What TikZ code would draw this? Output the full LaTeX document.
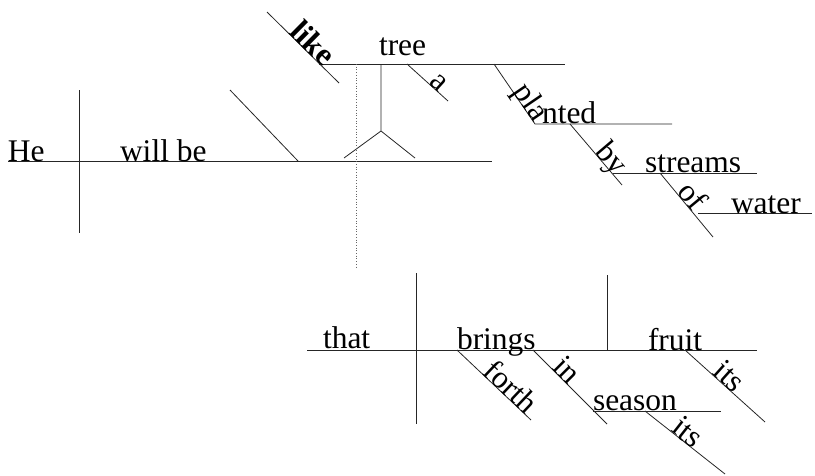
\documentclass[tikz,border=0pt]{standalone}
\usepackage{fontspec}
\setmainfont{Liberation Serif}
\begin{document}
\begin{tikzpicture}[x=1pt,y=-1pt,
  rule/.style={line width=0.8pt,black!85},
  word/.style={inner sep=0pt,outer sep=0pt,font=\fontsize{31.5}{36}\selectfont},
  lean/.style={word,sloped,anchor=base},
  dots/.style={line width=0.7pt,black!60,dotted}]
\useasboundingbox (0,0) rectangle (815,475);

% ---- main clause: He will be like a tree ----
\coordinate (mL) at (8,161);   \coordinate (mR) at (492,161);
\coordinate (sT) at (79,90);   \coordinate (sB) at (79,233);
\coordinate (pT) at (230,90);  \coordinate (pB) at (298,161);
\draw[rule] (mL) -- (mR);
\draw[rule] (sT) -- (sB);
\draw[rule] (pT) -- (pB);
\node[word,anchor=base west] (he) at (8,161) {He};
\node[word,anchor=base west] (will) at (120,161) {will be};

% prepositional phrase on a pedestal
\coordinate (lkT) at (267,12);  \coordinate (lkB) at (339,83);
\coordinate (trL) at (319,64);  \coordinate (trR) at (565,64);
\coordinate (pdT) at (381,64);  \coordinate (pdM) at (381,131);
\coordinate (pdL) at (344,158); \coordinate (pdR) at (415,158);
\draw[rule] (lkT) -- (lkB);
\draw[rule] (trL) -- (trR);
\draw[rule] (pdT) -- (pdM) (pdL) -- (pdM) -- (pdR);
\path (lkT) -- (lkB) node[lean,pos=0.54,font=\fontsize{31.5}{36}\selectfont\bfseries] (like) {like};
\node[word,anchor=base west] (tree) at (379,55) {tree};

\coordinate (aT) at (407,64); \coordinate (aB) at (448,101);
\draw[rule] (aT) -- (aB);
\path (aT) -- (aB) node[lean,pos=0.66] (a) {a};

% link from the predicate down to the relative clause
\coordinate (dT) at (356,64); \coordinate (dB) at (356,268);
\draw[dots] (dT) -- (dB);

% participle: planted by streams of water
\coordinate (plT) at (494,64);  \coordinate (plB) at (535,124);
\coordinate (ntR) at (672,124);
\draw[rule] (plT) -- (plB) -- (ntR);
\path (plT) -- (plB) node[lean,pos=0.98,anchor=base east] (pla) {pla};
\node[word,anchor=base west] (nted) at (542,123) {nted};

\coordinate (byT) at (570,124); \coordinate (byB) at (622,185);
\draw[rule] (byT) -- (byB);
\path (byT) -- (byB) node[lean,pos=0.86,anchor=base east] (by) {by};
\coordinate (stL) at (613,173); \coordinate (stR) at (757,173);
\draw[rule] (stL) -- (stR);
\node[word,anchor=base west] (streams) at (645,172) {streams};

\coordinate (ofT) at (660,173); \coordinate (ofB) at (713,237);
\draw[rule] (ofT) -- (ofB);
\path (ofT) -- (ofB) node[lean,pos=0.46] (of) {of};
\coordinate (waL) at (698,213); \coordinate (waR) at (812,213);
\draw[rule] (waL) -- (waR);
\node[word,anchor=base west] (water) at (731,213) {water};

% ---- relative clause: that brings forth its fruit in its season ----
\coordinate (rL) at (307,350);  \coordinate (rR) at (757,350);
\coordinate (rsT) at (416,273); \coordinate (rsB) at (416,424);
\coordinate (roT) at (607,275); \coordinate (roB) at (607,350);
\draw[rule] (rL) -- (rR);
\draw[rule] (rsT) -- (rsB);
\draw[rule] (roT) -- (roB);
\node[word,anchor=base west] (that) at (323,348) {that};
\node[word,anchor=base west] (brings) at (457,349) {brings};
\node[word,anchor=base west] (fruit) at (648,350) {fruit};

\coordinate (foT) at (457,350); \coordinate (foB) at (531,420);
\draw[rule] (foT) -- (foB);
\path (foT) -- (foB) node[lean,pos=0.63] (forth) {forth};

\coordinate (inT) at (533,350); \coordinate (inB) at (607,424);
\draw[rule] (inT) -- (inB);
\path (inT) -- (inB) node[lean,pos=0.37] (in) {in};
\coordinate (seL) at (593,411); \coordinate (seR) at (721,411);
\draw[rule] (seL) -- (seR);
\node[word,anchor=base west] (season) at (593,410) {season};

\coordinate (i1T) at (685,350); \coordinate (i1B) at (765,422);
\draw[rule] (i1T) -- (i1B);
\path (i1T) -- (i1B) node[lean,pos=0.47] (its1) {its};

\coordinate (i2T) at (645,411); \coordinate (i2B) at (725,474);
\draw[rule] (i2T) -- (i2B);
\path (i2T) -- (i2B) node[lean,pos=0.46] (its2) {its};
\end{tikzpicture}
\end{document}
